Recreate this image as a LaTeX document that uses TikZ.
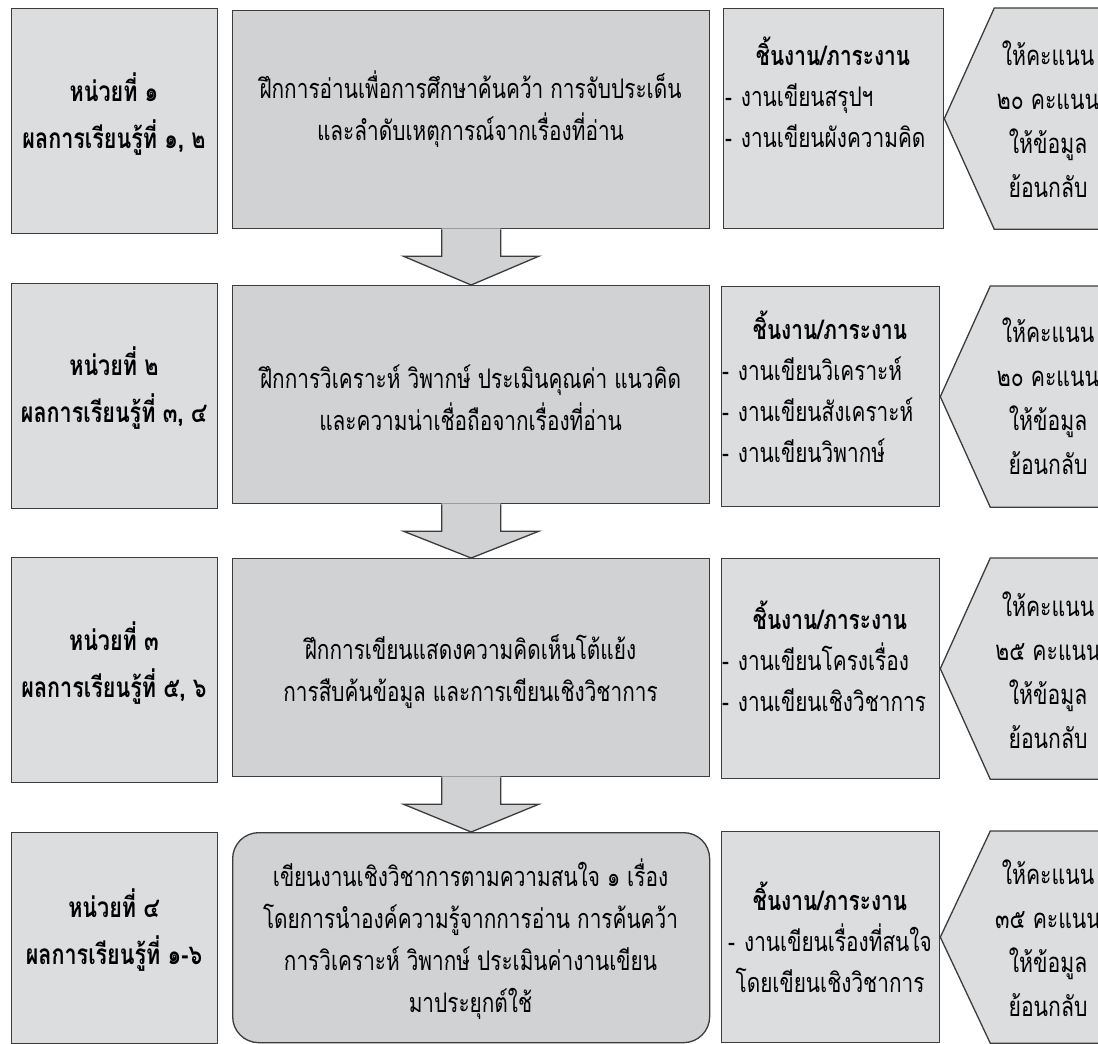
\documentclass[tikz,border=0pt]{standalone}
\usepackage{fontspec}
\setmainfont[Script=Thai,FakeStretch=0.77]{Loma}
\usetikzlibrary{calc}
\definecolor{lfill}{HTML}{DCDDDF}
\definecolor{mfill}{HTML}{D1D2D4}
\definecolor{bcol}{HTML}{3C3C3C}
\newcommand\blockarrow[2]{%
  \path (#1.south) coordinate (ba-s) (#2.north) coordinate (ba-t);
  \fill[mfill] ($(ba-s)+(-29.5,-1)$) -- ($(ba-s)+(-29.5,27)$) -- ($(ba-s)+(-67.5,27)$) -- (ba-t)
     -- ($(ba-s)+(67.5,27)$) -- ($(ba-s)+(29.5,27)$) -- ($(ba-s)+(29.5,-1)$) -- cycle;
  \draw[draw=bcol,line width=1.3pt,line join=miter] ($(ba-s)+(-29.5,0)$) -- ($(ba-s)+(-29.5,27)$) -- ($(ba-s)+(-67.5,27)$) -- (ba-t)
     -- ($(ba-s)+(67.5,27)$) -- ($(ba-s)+(29.5,27)$) -- ($(ba-s)+(29.5,0)$);
}
\newcommand\pentagon[1]{%
  \draw[pent] ($(#1.north east)+(50,0)$) -- (#1.east) -- ($(#1.south east)+(50,0)$)
     -- ($(#1.south east)+(180,0)$) -- ($(#1.north east)+(180,0)$) -- cycle;
}
\begin{document}
\begin{tikzpicture}[x=1pt,y=-1pt,
  bx/.style={draw=bcol,line width=1.3pt,inner sep=0pt,anchor=north west},
  lbox/.style={bx,fill=lfill},
  mbox/.style={bx,fill=mfill},
  rbox/.style={bx,fill=lfill},
  ltxt/.style={align=center,font={\fontsize{28}{47}\selectfont\bfseries},inner sep=0pt},
  mtxt/.style={align=center,font={\fontsize{27}{42}\selectfont},inner sep=0pt},
  rtxt/.style={align=left,text width=216pt,font={\fontsize{27}{41}\selectfont},inner sep=0pt},
  ptxt/.style={align=center,font={\fontsize{27.5}{44}\selectfont},inner sep=0pt},
  pent/.style={draw=bcol,line width=1.3pt,fill=lfill,line join=miter},
]
\useasboundingbox (0,0) rectangle (1098,1044);
\clip (0,0) rectangle (1098,1044);

% left column
\node[lbox,minimum width=206pt,minimum height=225pt] (u1) at (11,8) {};
\node[lbox,minimum width=206pt,minimum height=225pt] (u2) at (11,283) {};
\node[lbox,minimum width=206pt,minimum height=225pt] (u3) at (11,557) {};
\node[lbox,minimum width=206pt,minimum height=211pt] (u4) at (11,832) {};
\node[ltxt] (ut1) at (114,114) {หน่วยที่ ๑\\ผลการเรียนรู้ที่ ๑, ๒};
\node[ltxt] (ut2) at (114,388) {หน่วยที่ ๒\\ผลการเรียนรู้ที่ ๓, ๔};
\node[ltxt] (ut3) at (114,663) {หน่วยที่ ๓\\ผลการเรียนรู้ที่ ๕, ๖};
\node[ltxt] (ut4) at (114,930) {หน่วยที่ ๔\\ผลการเรียนรู้ที่ ๑-๖};

% middle column
\node[mbox,minimum width=477pt,minimum height=218pt] (m1) at (232,10) {};
\node[mbox,minimum width=477pt,minimum height=218pt] (m2) at (232,285) {};
\node[mbox,minimum width=477pt,minimum height=218pt] (m3) at (232,558) {};
\node[mbox,rounded corners=26pt,minimum width=477pt,minimum height=210pt] (m4) at (232,832) {};
\blockarrow{m1}{m2}
\blockarrow{m2}{m3}
\blockarrow{m3}{m4}
\node[mtxt] (mt1) at (470.5,109) {ฝึกการอ่านเพื่อการศึกษาค้นคว้า การจับประเด็น\\และลำดับเหตุการณ์จากเรื่องที่อ่าน};
\node[mtxt] (mt2) at (470.5,398) {ฝึกการวิเคราะห์ วิพากษ์ ประเมินคุณค่า แนวคิด\\และความน่าเชื่อถือจากเรื่องที่อ่าน};
\node[mtxt] (mt3) at (470.5,672) {ฝึกการเขียนแสดงความคิดเห็นโต้แย้ง\\การสืบค้นข้อมูล และการเขียนเชิงวิชาการ};
\node[mtxt] (mt4) at (470.5,939) {เขียนงานเชิงวิชาการตามความสนใจ ๑ เรื่อง\\โดยการนำองค์ความรู้จากการอ่าน การค้นคว้า\\การวิเคราะห์ วิพากษ์ ประเมินค่างานเขียน\\มาประยุกต์ใช้};

% right column
\node[rbox,minimum width=220pt,minimum height=220pt] (r1) at (723,8) {};
\node[rbox,minimum width=218pt,minimum height=220pt] (r2) at (721,286) {};
\node[rbox,minimum width=218pt,minimum height=220pt] (r3) at (721,558) {};
\node[rbox,minimum width=218pt,minimum height=211pt] (r4) at (721,831) {};
\node[rtxt] (rt1) at (833,92) {\hbox to\hsize{\hss\bfseries ชิ้นงาน/ภาระงาน\hss}\\-~งานเขียนสรุปฯ\\-~งานเขียนผังความคิด};
\node[rtxt] (rt2) at (830,387) {\hbox to\hsize{\hss\bfseries ชิ้นงาน/ภาระงาน\hss}\\-~งานเขียนวิเคราะห์\\-~งานเขียนสังเคราะห์\\-~งานเขียนวิพากษ์};
\node[rtxt] (rt3) at (830,656) {\hbox to\hsize{\hss\bfseries ชิ้นงาน/ภาระงาน\hss}\\-~งานเขียนโครงเรื่อง\\-~งานเขียนเชิงวิชาการ};
\node[rtxt,align=center] (rt4) at (830,937) {\textbf{ชิ้นงาน/ภาระงาน}\\-~งานเขียนเรื่องที่สนใจ\\โดยเขียนเชิงวิชาการ};

% pentagons
\pentagon{r1}
\pentagon{r2}
\pentagon{r3}
\pentagon{r4}
\node[ptxt] (p1) at (1048,119) {ให้คะแนน\\๒๐ คะแนน\\ให้ข้อมูล\\ย้อนกลับ};
\node[ptxt] (p2) at (1048,396) {ให้คะแนน\\๒๐ คะแนน\\ให้ข้อมูล\\ย้อนกลับ};
\node[ptxt] (p3) at (1048,670) {ให้คะแนน\\๒๕ คะแนน\\ให้ข้อมูล\\ย้อนกลับ};
\node[ptxt] (p4) at (1048,938) {ให้คะแนน\\๓๕ คะแนน\\ให้ข้อมูล\\ย้อนกลับ};
\end{tikzpicture}
\end{document}
